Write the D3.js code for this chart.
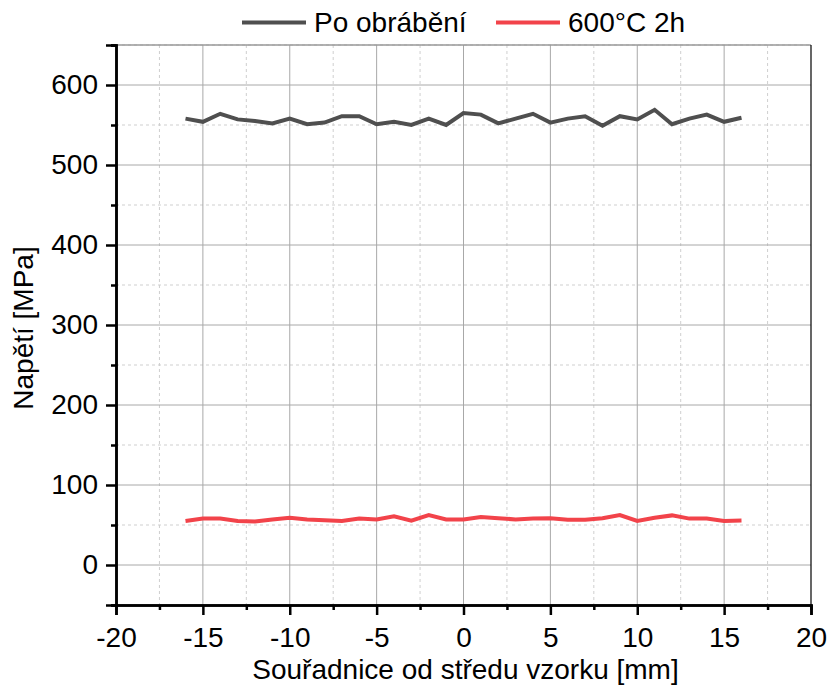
<!DOCTYPE html>
<html>
<head>
<meta charset="utf-8">
<script src="https://cdn.jsdelivr.net/npm/d3@7"></script>
<style>
  body { margin: 0; background: #fff; }
  text { font-family: "Liberation Sans", Arial, sans-serif; fill: #000; }
</style>
</head>
<body>
<div id="chart"></div>
<script>
var svgWidth = 828;
var svgHeight = 688;

var margin = { top: 45, right: 17, bottom: 83, left: 116 };
var width = svgWidth - margin.left - margin.right;
var height = svgHeight - margin.top - margin.bottom;

// Data
var positions = d3.range(-16, 17);
var seriesNames = ["Po obrábění", "600°C 2h"];
var seriesColors = ["#4f4f4f", "#f2434a"];
var machined = [558, 554, 564, 557, 555, 552, 558, 551, 553, 561, 561, 551, 554, 550, 558, 550,
  565, 563, 552, 558, 564, 553, 558, 561, 549, 561, 557, 569, 551, 558, 563, 554, 559];
var annealed = [55, 58, 58, 55, 54.5, 57, 59, 57, 56, 55, 58, 57, 61, 55.5, 62.5, 57,
  57, 60, 58.5, 57, 58, 58.5, 56.5, 56.5, 58.5, 62.5, 55, 59, 62, 58, 58, 55, 55.5];
var xTicks = [-20, -15, -10, -5, 0, 5, 10, 15, 20];
var yTicks = [0, 100, 200, 300, 400, 500, 600];

var svg = d3.select("#chart")
  .append("svg")
  .attr("width", svgWidth)
  .attr("height", svgHeight);

var chart = svg.append("g")
  .attr("transform", `translate(${margin.left}, ${margin.top})`);

var xScale = d3.scaleLinear().domain([-20, 20]).range([0, width]);
var yScale = d3.scaleLinear().domain([-50, 650]).range([height, 0]);

// minor grid (dashed)
var xMinor = d3.range(-17.5, 20, 5);
var yMinor = d3.range(-50, 651, 100);

chart.append("g").selectAll("line")
  .data(xMinor).enter().append("line")
  .attr("x1", d => xScale(d)).attr("x2", d => xScale(d))
  .attr("y1", 0).attr("y2", height)
  .attr("stroke", "#cfcfcf").attr("stroke-dasharray", "3,3");

chart.append("g").selectAll("line")
  .data(yMinor).enter().append("line")
  .attr("y1", d => yScale(d)).attr("y2", d => yScale(d))
  .attr("x1", 0).attr("x2", width)
  .attr("stroke", "#cfcfcf").attr("stroke-dasharray", "3,3");

// major grid
chart.append("g").selectAll("line")
  .data(xTicks.slice(1, -1)).enter().append("line")
  .attr("x1", d => xScale(d)).attr("x2", d => xScale(d))
  .attr("y1", 0).attr("y2", height)
  .attr("stroke", "#a8a8a8");

chart.append("g").selectAll("line")
  .data(yTicks).enter().append("line")
  .attr("y1", d => yScale(d)).attr("y2", d => yScale(d))
  .attr("x1", 0).attr("x2", width)
  .attr("stroke", "#a8a8a8");

// frame top / right
chart.append("line")
  .attr("x1", 0).attr("x2", width).attr("y1", 0).attr("y2", 0)
  .attr("stroke", "#999").attr("stroke-width", 1.5);
chart.append("line")
  .attr("x1", width).attr("x2", width).attr("y1", 0).attr("y2", height)
  .attr("stroke", "#000").attr("stroke-width", 1.2);

// lines
var line = d3.line()
  .x((d, i) => xScale(positions[i]))
  .y(d => yScale(d));

[machined, annealed].forEach(function(vals, k) {
  chart.append("path")
    .datum(vals)
    .attr("d", line)
    .attr("fill", "none")
    .attr("stroke", seriesColors[k])
    .attr("stroke-width", 4)
    .attr("stroke-linejoin", "miter");
});

// axes (plain hyphen for negatives, as in the original)
var bottomAxis = d3.axisBottom(xScale).tickValues(xTicks).tickSize(10).tickPadding(12)
  .tickFormat(d => String(d));
var bottomMinor = d3.axisBottom(xScale).tickValues(xMinor).tickSize(5).tickFormat("");
var leftAxis = d3.axisLeft(yScale).tickValues(yTicks).tickSize(10).tickPadding(8)
  .tickFormat(d => String(d));
var leftMinor = d3.axisLeft(yScale).tickValues(yMinor).tickSize(5).tickFormat("");

function styleAxis(g) {
  g.select(".domain").attr("stroke-width", 2.5);
  g.selectAll(".tick line").attr("stroke-width", 2.5);
  g.selectAll(".tick text").attr("font-size", 28).attr("font-family", "Liberation Sans, Arial, sans-serif");
}

chart.append("g").attr("transform", `translate(0, ${height})`).call(bottomMinor).call(styleAxis);
chart.append("g").attr("transform", `translate(0, ${height})`).call(bottomAxis).call(styleAxis);
chart.append("g").call(leftMinor).call(styleAxis);
chart.append("g").call(leftAxis).call(styleAxis);

// axis titles
chart.append("text")
  .attr("transform", "rotate(-90)")
  .attr("x", -(yScale(300) + 3))
  .attr("y", -83)
  .attr("text-anchor", "middle")
  .attr("font-size", 28)
  .text("Napětí [MPa]");

chart.append("text")
  .attr("x", width / 2 + 2)
  .attr("y", height + 74)
  .attr("text-anchor", "middle")
  .attr("font-size", 28)
  .text("Souřadnice od středu vzorku [mm]");

// legend
var legendX = [242, 496];
var legend = svg.append("g");
seriesNames.forEach(function(name, k) {
  legend.append("line")
    .attr("x1", legendX[k]).attr("x2", legendX[k] + 64)
    .attr("y1", 22.5).attr("y2", 22.5)
    .attr("stroke", seriesColors[k]).attr("stroke-width", 4);
  legend.append("text")
    .attr("x", legendX[k] + 72)
    .attr("y", 32)
    .attr("font-size", 28)
    .text(name);
});
</script>
</body>
</html>
